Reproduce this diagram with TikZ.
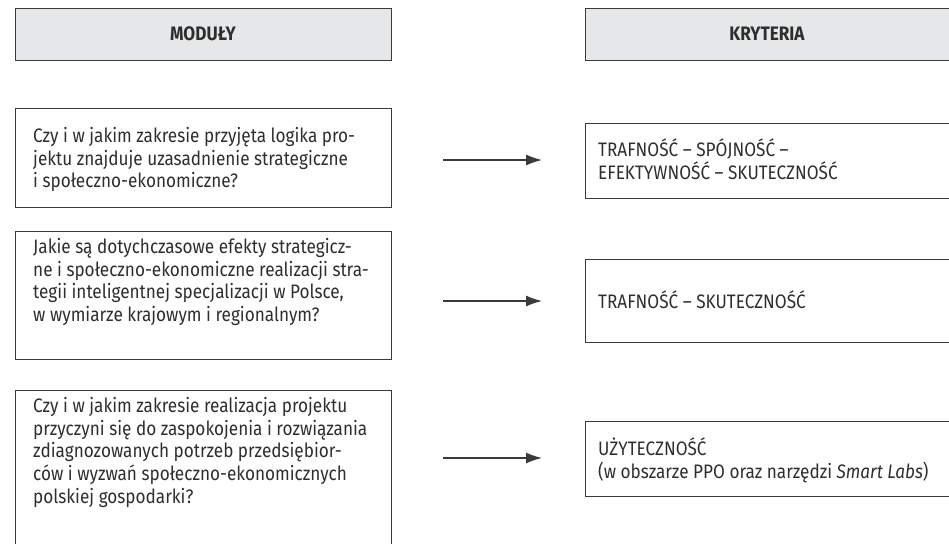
\documentclass[tikz,border=0pt]{standalone}
\usepackage{fontspec}
\setmainfont[FakeStretch=0.88]{Fira Sans}
\usetikzlibrary{arrows.meta}
\definecolor{frame}{HTML}{3A3A3A}
\definecolor{ink}{HTML}{2E2E2E}
\definecolor{headfill}{HTML}{E6E7E8}
\begin{document}
\begin{tikzpicture}[x=1pt,y=-1pt,
  box/.style={draw=frame, line width=1.3pt, inner sep=0pt, anchor=north west},
  headbox/.style={box, fill=headfill},
  txt/.style={inner sep=0pt, anchor=north west, align=left, text=ink,
    font=\fontsize{19.5}{22.7}\selectfont},
  headtxt/.style={inner sep=0pt, text=ink, font=\fontsize{19.5}{22}\selectfont\bfseries},
  link/.style={draw=frame, line width=1.3pt, -{Latex[length=16pt,width=11pt]}}]
\useasboundingbox (0,0) rectangle (949,543);

% column headers
\node[headbox, minimum width=376pt, minimum height=52pt] (hL) at (15,8) {};
\node[headbox, minimum width=375pt, minimum height=52pt] (hR) at (585,8) {};
\node[headtxt] (hLt) at (203,34) {MODUŁY};
\node[headtxt] (hRt) at (767,34) {KRYTERIA};

% modules (left column)
\node[box, minimum width=376pt, minimum height=99pt] (m1) at (15,108) {};
\node[box, minimum width=376pt, minimum height=128pt] (m2) at (15,231) {};
\node[box, minimum width=376pt, minimum height=175pt] (m3) at (15,390) {};

\node[txt] (m1t) at (33,127) {Czy i w jakim zakresie przyjęta logika pro-\\
jektu znajduje uzasadnienie strategiczne\\
i społeczno-ekonomiczne?};
\node[txt] (m2t) at (33,238) {Jakie są dotychczasowe efekty strategicz-\\
ne i społeczno-ekonomiczne realizacji stra-\\
tegii inteligentnej specjalizacji w Polsce,\\
w wymiarze krajowym i regionalnym?};
\node[txt] (m3t) at (33,397) {Czy i w jakim zakresie realizacja projektu\\
przyczyni się do zaspokojenia i rozwiązania\\
zdiagnozowanych potrzeb przedsiębior-\\
ców i wyzwań społeczno-ekonomicznych\\
polskiej gospodarki?};

% criteria (right column)
\node[box, minimum width=375pt, minimum height=75pt] (k1) at (585,123) {};
\node[box, minimum width=375pt, minimum height=83pt] (k2) at (585,259) {};
\node[box, minimum width=375pt, minimum height=75pt] (k3) at (585,421) {};

\node[txt] (k1t) at (598,139) {TRAFNOŚĆ – SPÓJNOŚĆ –\\
EFEKTYWNOŚĆ – SKUTECZNOŚĆ};
\node[txt] (k2t) at (598,291) {TRAFNOŚĆ – SKUTECZNOŚĆ};
\node[txt] (k3t) at (598,438) {UŻYTECZNOŚĆ\\
(w obszarze PPO oraz narzędzi \textit{Smart Labs})};

% connectors
\coordinate (a1s) at (443,160); \coordinate (a1e) at (542,160);
\coordinate (a2s) at (443,301); \coordinate (a2e) at (542,301);
\coordinate (a3s) at (443,458); \coordinate (a3e) at (542,458);
\draw[link] (a1s) -- (a1e);
\draw[link] (a2s) -- (a2e);
\draw[link] (a3s) -- (a3e);
\end{tikzpicture}
\end{document}
